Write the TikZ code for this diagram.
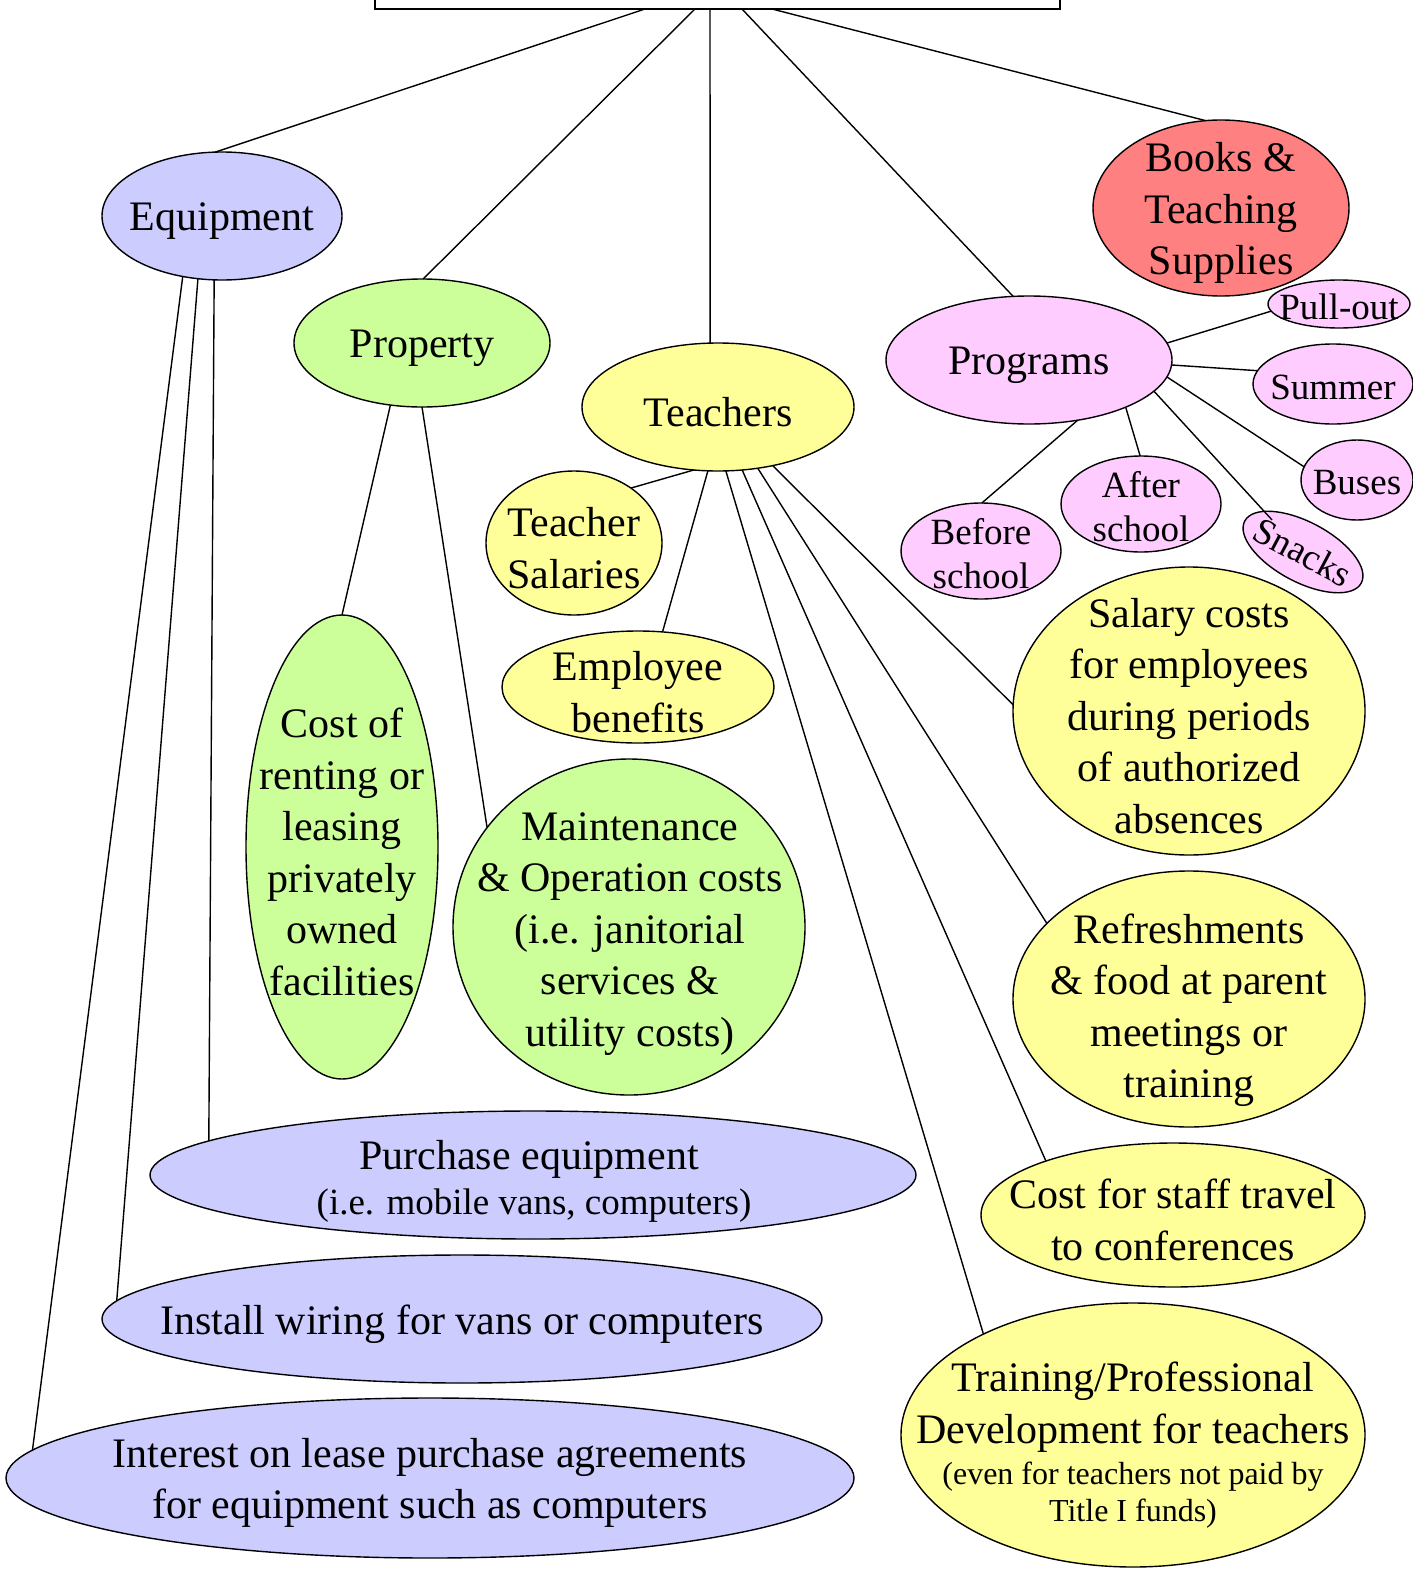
\documentclass[tikz,border=0pt]{standalone}
\usepackage{fontspec}
\setmainfont{Liberation Serif}
\usetikzlibrary{shapes.geometric,calc}
\definecolor{cEq}{RGB}{204,204,255}
\definecolor{cGr}{RGB}{204,255,153}
\definecolor{cYe}{RGB}{255,255,153}
\definecolor{cPk}{RGB}{255,204,255}
\definecolor{cRd}{RGB}{255,128,128}
\begin{document}
\begin{tikzpicture}[x=1pt,y=-1pt,
  ell/.style={ellipse,draw,line width=1.4pt,inner sep=0pt,outer sep=0pt},
  lbl/.style={align=center,inner sep=0pt,yshift=-5pt,font=\fontsize{42}{51.5}\selectfont},
  sml/.style={align=center,inner sep=0pt,yshift=-3pt,font=\fontsize{37}{44}\selectfont},
  tny/.style={align=center,inner sep=0pt,yshift=-5pt,font=\fontsize{32}{37}\selectfont},
  conn/.style={line width=1.4pt}]
\useasboundingbox (0,0) rectangle (1413,1571);
\fill[white] (0,0) rectangle (1413,1571);
\clip (0,0) rectangle (1413,1571);

% top box
\node[draw,line width=1.4pt,minimum width=685pt,minimum height=80pt,anchor=south,inner sep=0pt,outer sep=0pt] (top) at (717.5,9) {};

% main categories
\node[ell,fill=cEq,minimum width=240pt,minimum height=128pt] (eq) at (222,216) {};
\node[lbl] (eqt) at (eq) {Equipment};
\node[ell,fill=cGr,minimum width=256pt,minimum height=128pt] (pr) at (422,343) {};
\node[lbl] (prt) at (pr) {Property};
\node[ell,fill=cYe,minimum width=272pt,minimum height=128pt] (te) at (718,407) {};
\node[lbl] (tet) at (te) {Teachers};
\node[ell,fill=cPk,minimum width=286pt,minimum height=128pt] (pg) at (1029,360) {};
\node[lbl] (pgt) at (pg) {Programs};
\node[ell,fill=cRd,minimum width=256pt,minimum height=176pt] (bk) at (1221,208) {};
\node[lbl] (bkt) at (bk) {Books \&\\Teaching\\Supplies};

% programs children
\node[ell,fill=cPk,minimum width=142pt,minimum height=48pt] (po) at (1339,304) {};
\node[sml] (pot) at (po) {Pull-out};
\node[ell,fill=cPk,minimum width=160pt,minimum height=80pt] (su) at (1333,384) {};
\node[sml] (sut) at (su) {Summer};
\node[ell,fill=cPk,minimum width=112pt,minimum height=80pt] (bu) at (1357,480) {};
\node[sml] (but) at (bu) {Buses};
\node[ell,fill=cPk,minimum width=132pt,minimum height=60pt,rotate=-28] (sn) at (1303,552) {};
\node[sml,yshift=3pt,rotate=-28] (snt) at (sn) {Snacks};
\node[ell,fill=cPk,minimum width=160pt,minimum height=96pt] (as) at (1141,504) {};
\node[sml] (ast) at (as) {After\\school};
\node[ell,fill=cPk,minimum width=160pt,minimum height=96pt] (bs) at (981,551) {};
\node[sml] (bst) at (bs) {Before\\school};

% teachers children
\node[ell,fill=cYe,minimum width=176pt,minimum height=144pt] (ts) at (574,543) {};
\node[lbl] (tst) at (ts) {Teacher\\Salaries};
\node[ell,fill=cYe,minimum width=272pt,minimum height=112pt] (eb) at (638,687) {};
\node[lbl] (ebt) at (eb) {Employee\\benefits};
\node[ell,fill=cYe,minimum width=352pt,minimum height=288pt] (sc) at (1189,711) {};
\node[lbl] (sct) at (sc) {Salary costs\\for employees\\during periods\\of authorized\\absences};
\node[ell,fill=cYe,minimum width=352pt,minimum height=256pt] (rf) at (1189,999) {};
\node[lbl] (rft) at (1189,1005) {Refreshments\\\& food at parent\\meetings or\\training};
\node[ell,fill=cYe,minimum width=384pt,minimum height=144pt] (st) at (1173,1215) {};
\node[lbl] (stt) at (st) {Cost for staff travel\\to conferences};
\node[ell,fill=cYe,minimum width=464pt,minimum height=264pt] (tp) at (1133,1435) {};
\node[lbl] (tpt) at (1133,1402) {Training/Professional\\Development for teachers};
\node[tny] (tpu) at (1133,1490) {(even for teachers not paid by\\Title I funds)};

% property children
\node[ell,fill=cGr,minimum width=192pt,minimum height=464pt] (cr) at (342,847) {};
\node[lbl] (crt) at (cr) {Cost of\\renting or\\leasing\\privately\\owned\\facilities};
\node[ell,fill=cGr,minimum width=352pt,minimum height=336pt] (mo) at (629,927) {};
\node[lbl] (mot) at (630,929) {Maintenance\\\& Operation costs\\(i.e. janitorial\\services \&\\utility costs)};

% equipment children
\node[ell,fill=cEq,minimum width=766pt,minimum height=128pt] (pe) at (533,1175) {};
\node[lbl] (pet) at (529,1154) {Purchase equipment};
\node[sml] (peu) at (534,1203) {(i.e. mobile vans, computers)};
\node[ell,fill=cEq,minimum width=720pt,minimum height=128pt] (iw) at (462,1319) {};
\node[lbl] (iwt) at (iw) {Install wiring for vans or computers};
\node[ell,fill=cEq,minimum width=848pt,minimum height=160pt] (il) at (430,1478) {};
\node[lbl] (ilt) at (il) {Interest on lease purchase agreements\\for equipment such as computers};

% connectors from top
\draw[conn] ([xshift=-72.5pt]top.south) -- (eq.96);
\draw[conn] ([xshift=-22.5pt]top.south) -- (pr.89);
\draw[conn] ([xshift=-7.5pt]top.south) -- (te.97);
\draw[conn] ([xshift=24.5pt]top.south) -- (pg.104);
\draw[conn] ([xshift=54.5pt]top.south) -- (bk.100);

% equipment
\draw[conn] (eq.-97) -- (pe.174.6);
\draw[conn] (eq.-111) -- (iw.177.5);
\draw[conn] (eq.-123) -- (il.176.5);

% property
\draw[conn] (pr.-117) -- (cr.90);
\draw[conn] (pr.-90) -- (mo.145.6);

% teachers
\draw[conn] (te.-111) -- (ts.44.7);
\draw[conn] (te.-99) -- (eb.66.5);
\draw[conn] (te.-83) -- (tp.146.4);
\draw[conn] (te.-69) -- (st.157.2);
\draw[conn] (te.-57) -- (rf.152.9);
\draw[conn] (te.-47) -- (sc.178);

% programs
\draw[conn] (pg.7) -- (po.186.7);
\draw[conn] (pg.-2) -- (su.170.7);
\draw[conn] (pg.-7) -- (bu.166.3);
\draw[conn] (pg.-14) -- ($(sn.center)!0.79!(sn.162)$);
\draw[conn] (pg.-26) -- (as.91);
\draw[conn] (pg.-51) -- (bs.89);
\end{tikzpicture}
\end{document}
